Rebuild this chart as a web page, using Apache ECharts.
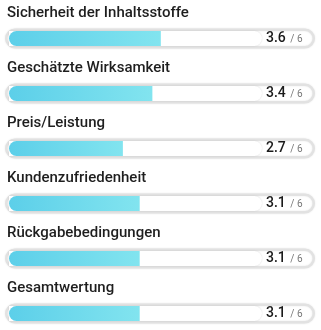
<!DOCTYPE html>
<html><head><meta charset="utf-8">
<script src="https://cdn.jsdelivr.net/npm/echarts@6/dist/echarts.min.js"></script>
<style>html,body{margin:0;padding:0;background:#fff}#c{width:321px;height:330px}</style>
</head><body><div id="c"></div>
<script>
const categories = ['Sicherheit der Inhaltsstoffe','Geschätzte Wirksamkeit','Preis/Leistung','Kundenzufriedenheit','Rückgabebedingungen','Gesamtwertung'];
const scores = [3.6, 3.4, 2.7, 3.1, 3.1, 3.1];
const maxScore = 6;

const FONT = 'Roboto';
const chart = echarts.init(document.getElementById('c'), null, {renderer:'canvas'});
const catAxis = (i) => ({type:'category', data:categories, inverse:true, gridIndex:0, show:false});
chart.setOption({
  animation:false,
  grid:{left:5, right:6, top:11, bottom:-11, outerBoundsMode:'none', containLabel:false},
  xAxis:[
    {type:'value', min:-0.0949, max:7.257, show:false},
    {type:'value', min:0, max:1, show:false}
  ],
  yAxis:[catAxis(0), catAxis(1), catAxis(2)],
  series:[
    {
      type:'bar', xAxisIndex:1, yAxisIndex:0, barWidth:20,
      data: categories.map(() => 1),
      itemStyle:{color:'#ffffff', borderColor:'#e2e2e2', borderWidth:2.5, borderRadius:10,
        shadowColor:'rgba(0,0,0,0.10)', shadowBlur:2},
      label:{show:true, position:[2,-15], verticalAlign:'middle', align:'left',
        formatter:(p)=>categories[p.dataIndex], fontFamily:FONT, fontSize:15, color:'#1e1e1e', fontWeight:500},
      silent:true
    },
    {
      type:'bar', xAxisIndex:0, yAxisIndex:1, barWidth:15,
      data: categories.map(() => maxScore),
      itemStyle:{color:'#ffffff', borderRadius:[0,8,8,0], shadowColor:'rgba(0,0,0,0.16)', shadowBlur:1.5},
      label:{show:true, position:'right', distance:4,
        formatter:(p)=>'{v|'+scores[p.dataIndex].toFixed(1)+'}{d| / '+maxScore+'}',
        rich:{
          v:{fontFamily:FONT, fontSize:14, fontWeight:500, color:'#1a1a1a'},
          d:{fontFamily:FONT, fontSize:10, color:'#777', padding:[2,0,0,2]}
        }},
      silent:true
    },
    {
      type:'bar', xAxisIndex:0, yAxisIndex:2, barWidth:15,
      data: scores,
      itemStyle:{
        borderRadius:[8,0,0,8],
        color:new echarts.graphic.LinearGradient(0,0,1,0,[{offset:0,color:'#5ccfe9'},{offset:1,color:'#82e4ef'}])
      }
    }
  ]
});
</script></body></html>
